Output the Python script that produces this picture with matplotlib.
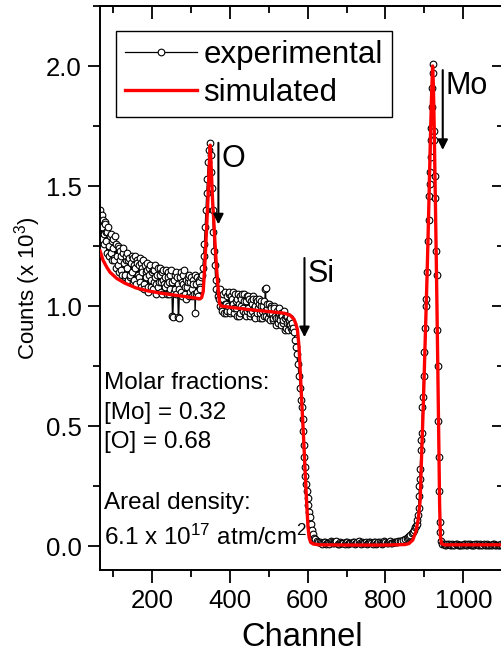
import matplotlib
matplotlib.use('Agg')
import matplotlib.pyplot as plt
from matplotlib.ticker import MultipleLocator, FormatStrFormatter

plt.rcParams['font.family'] = ['Liberation Sans', 'DejaVu Sans']
plt.rcParams['mathtext.fontset'] = 'custom'
plt.rcParams['mathtext.rm'] = 'Liberation Sans'
plt.rcParams['mathtext.it'] = 'Liberation Sans:italic'
plt.rcParams['mathtext.default'] = 'regular'

# ---------------- data ----------------
bg_left_ch = [68, 71, 74, 77, 80, 83, 86, 89, 92, 95, 98, 101, 104, 107, 110, 113, 116, 119, 122, 125,
              128, 131, 134, 137, 140, 143, 146, 149, 152, 155, 158, 161, 164, 167, 170, 173, 176, 179,
              182, 185, 188, 191, 194, 197, 200, 203, 206, 209, 212, 215, 218, 221, 224, 227, 230, 233,
              236, 239, 242, 245, 248, 251, 253, 254, 257, 260, 263, 266, 268, 269, 272, 275, 278, 281,
              284, 287, 290, 293, 296, 299, 302, 305, 308, 311, 314, 317, 320, 323, 326]
bg_left_counts = [1.40, 1.33, 1.36, 1.30, 1.34, 1.27, 1.31, 1.25, 1.29, 1.22, 1.27, 1.24, 1.19, 1.26, 1.21,
                  1.17, 1.24, 1.19, 1.15, 1.22, 1.18, 1.13, 1.21, 1.16, 1.19, 1.12, 1.18, 1.14, 1.20, 1.11,
                  1.16, 1.19, 1.13, 1.17, 1.10, 1.18, 1.14, 1.09, 1.17, 1.12, 1.15, 1.08, 1.16, 1.11, 1.14,
                  1.07, 1.15, 1.12, 1.09, 1.16, 1.10, 1.13, 1.06, 1.14, 1.11, 1.08, 1.15, 1.09, 1.12, 1.05,
                  1.13, 1.10, 0.96, 0.955, 1.11, 1.07, 1.14, 1.09, 0.955, 0.95, 1.12, 1.06, 1.10, 1.13,
                  1.05, 1.11, 1.08, 1.12, 1.04, 1.10, 1.07, 1.11, 1.05, 0.97, 1.09, 1.06, 1.11, 1.08, 1.12]

bg_left2_ch = [70, 73, 76, 79, 82, 85, 88, 91, 94, 97, 100, 103, 106, 109, 112, 115, 118, 121, 124, 127,
               130, 133, 136, 139, 142, 145, 148, 151, 154, 157, 160, 163, 166, 169, 172, 175, 178, 181,
               184, 187, 190, 193, 196, 199, 202, 205, 208, 211, 214, 217, 220, 223, 226, 229, 232, 235,
               238, 241, 244, 247, 250, 256, 259, 262, 265, 271, 274, 277, 280, 283, 286, 289, 292, 295,
               298, 301, 304, 307, 310, 313, 316, 319, 322, 325]
bg_left2_counts = [1.28, 1.38, 1.26, 1.35, 1.31, 1.22, 1.33, 1.21, 1.30, 1.19, 1.28, 1.20, 1.29, 1.16,
                   1.25, 1.14, 1.23, 1.21, 1.13, 1.24, 1.12, 1.19, 1.22, 1.11, 1.20, 1.13, 1.21, 1.10,
                   1.17, 1.21, 1.09, 1.18, 1.12, 1.20, 1.08, 1.16, 1.19, 1.07, 1.14, 1.18, 1.06, 1.13,
                   1.17, 1.08, 1.15, 1.10, 1.17, 1.05, 1.13, 1.08, 1.16, 1.10, 1.05, 1.15, 1.09, 1.12,
                   1.05, 1.14, 1.10, 1.07, 1.15, 1.06, 1.13, 1.05, 1.12, 1.07, 1.14, 1.04, 1.09, 1.15,
                   1.08, 1.03, 1.10, 1.13, 1.06, 1.12, 1.04, 1.09, 1.13, 1.05, 1.12, 1.04, 1.10, 1.07]

o_peak_ch = [329, 331, 333, 335, 337, 339, 341, 343, 345, 347, 349, 351, 353, 354, 356, 358, 360, 362,
             364, 366, 369]
o_peak_counts = [1.13, 1.16, 1.21, 1.26, 1.33, 1.40, 1.47, 1.53, 1.60, 1.65, 1.68, 1.63, 1.56, 1.49,
                 1.40, 1.31, 1.23, 1.17, 1.11, 1.07, 1.04]

bg_mid_ch = [372, 375, 378, 381, 384, 387, 390, 393, 396, 399, 402, 405, 408, 411, 414, 417, 420, 423,
             426, 429, 432, 435, 438, 441, 444, 447, 450, 453, 456, 459, 462, 465, 468, 471, 474, 477,
             480, 483, 486, 489, 491, 492, 495, 498, 501, 504, 507, 510, 513, 516, 518, 521, 524, 527,
             530, 533, 536, 539, 542, 545, 548, 551, 554, 557, 560]
bg_mid_counts = [1.06, 1.00, 1.04, 0.98, 1.05, 1.01, 0.97, 1.04, 1.00, 1.06, 0.98, 1.03, 1.01, 0.97,
                 1.05, 0.99, 1.03, 0.96, 1.04, 1.00, 1.05, 0.98, 1.02, 0.96, 1.04, 0.99, 1.03, 0.97,
                 1.01, 1.04, 0.96, 1.00, 1.03, 0.97, 1.01, 0.95, 1.02, 0.98, 1.00, 0.96, 1.07, 1.075,
                 0.99, 0.95, 1.01, 0.97, 0.99, 0.94, 1.00, 0.96, 0.92, 0.98, 0.95, 0.99, 0.94, 0.97,
                 0.93, 0.98, 0.95, 0.91, 0.96, 0.93, 0.95, 0.91, 0.93]

bg_mid2_ch = [373, 376, 379, 382, 385, 388, 391, 394, 397, 400, 403, 406, 409, 412, 415, 418, 421, 424,
              427, 430, 433, 436, 439, 442, 445, 448, 451, 454, 457, 460, 463, 466, 469, 472, 475, 478,
              481, 484, 487, 490, 494, 497, 500, 503, 506, 509, 512, 515, 520, 523, 526, 529, 532, 535,
              538, 541, 544, 547, 550, 553, 556, 559]
bg_mid2_counts = [1.03, 1.07, 0.99, 1.03, 0.97, 1.06, 1.01, 0.98, 1.05, 0.97, 1.04, 1.00, 1.06, 0.99,
                  1.02, 0.96, 1.05, 1.01, 0.97, 1.03, 0.99, 1.05, 0.97, 1.02, 0.98, 1.04, 0.96, 1.02,
                  0.98, 1.03, 0.99, 0.95, 1.02, 0.99, 1.03, 0.97, 1.00, 0.95, 1.02, 0.98, 0.96, 1.01,
                  0.97, 0.94, 1.00, 0.97, 0.95, 0.99, 0.95, 0.93, 0.97, 0.95, 0.92, 0.96, 0.94, 0.90,
                  0.96, 0.93, 0.90, 0.94, 0.92, 0.90]

si_edge_ch = [562, 565, 568, 570, 572, 575, 578, 581, 583, 585, 587, 588, 590, 591, 593, 594, 596, 598,
              600, 602, 604, 606, 608, 611, 614, 617, 620, 624, 628]
si_edge_counts = [0.91, 0.89, 0.86, 0.83, 0.80, 0.76, 0.71, 0.66, 0.61, 0.58, 0.53, 0.48, 0.42, 0.37,
                  0.33, 0.29, 0.26, 0.23, 0.20, 0.17, 0.14, 0.12, 0.09, 0.067, 0.05, 0.035, 0.028,
                  0.022, 0.018]

flat_ch = [632, 638, 644, 650, 656, 662, 668, 674, 680, 686, 692, 698, 704, 710, 716, 722, 728, 734,
           740, 746, 752, 758, 764, 770, 776, 782, 788, 794, 800, 806, 812, 818, 824, 830, 836]
flat_counts = [0.015, 0.010, 0.018, 0.012, 0.008, 0.016, 0.011, 0.019, 0.009, 0.014, 0.012, 0.017,
               0.010, 0.013, 0.018, 0.009, 0.015, 0.011, 0.016, 0.012, 0.010, 0.017, 0.013, 0.015,
               0.009, 0.018, 0.012, 0.014, 0.016, 0.011, 0.019, 0.013, 0.017, 0.015, 0.020]

flat2_ch = [635, 641, 647, 653, 659, 665, 671, 677, 683, 689, 695, 701, 707, 713, 719, 725, 731, 737,
            743, 749, 755, 761, 767, 773, 779, 785, 791, 797, 803, 809, 815, 821, 827, 833]
flat2_counts = [0.012, 0.017, 0.009, 0.014, 0.019, 0.011, 0.015, 0.008, 0.016, 0.013, 0.010, 0.018,
                0.014, 0.011, 0.016, 0.012, 0.019, 0.010, 0.014, 0.017, 0.011, 0.015, 0.009, 0.018,
                0.013, 0.016, 0.010, 0.019, 0.012, 0.015, 0.014, 0.018, 0.016, 0.021]

mo_peak_ch = [840, 845, 850, 854, 858, 861, 864, 867, 870, 873, 876, 878, 880, 882, 884, 885, 886, 887,
              888, 889, 891, 892, 893, 895, 896, 898, 900, 902, 904, 905, 907, 909, 911, 913, 914, 915,
              916, 917, 918, 919, 920, 921, 922, 924, 925, 927, 928, 930, 931, 933, 934, 936, 937,
              938, 940, 941, 943, 946]
mo_peak_counts = [0.022, 0.025, 0.028, 0.032, 0.036, 0.040, 0.046, 0.053, 0.060, 0.068, 0.078, 0.085,
                  0.09, 0.11, 0.13, 0.16, 0.21, 0.25, 0.28, 0.32, 0.40, 0.44, 0.47, 0.58, 0.62, 0.71,
                  0.81, 0.91, 1.00, 1.03, 1.14, 1.27, 1.36, 1.46, 1.51, 1.56, 1.62, 1.69, 1.74, 1.83,
                  1.91, 1.97, 2.01, 1.73, 1.69, 1.54, 1.45, 1.23, 1.13, 0.90, 0.75, 0.52, 0.37, 0.23,
                  0.10, 0.06, 0.02, 0.01]

bg_right_ch = [950, 956, 962, 968, 974, 980, 986, 992, 998, 1004, 1010, 1016, 1022, 1028, 1034, 1040,
               1046, 1052, 1058, 1064, 1070, 1076, 1082, 1088, 1094, 1100, 1106]
bg_right_counts = [0.008, 0.005, 0.007, 0.004, 0.006, 0.009, 0.005, 0.006, 0.004, 0.007, 0.005, 0.008,
                   0.006, 0.004, 0.007, 0.005, 0.006, 0.008, 0.004, 0.006, 0.005, 0.007, 0.005, 0.006,
                   0.004, 0.006, 0.005]

bg_right2_ch = [953, 959, 965, 971, 977, 983, 989, 995, 1001, 1007, 1013, 1019, 1025, 1031, 1037, 1043,
                1049, 1055, 1061, 1067, 1073, 1079, 1085, 1091, 1097, 1103]
bg_right2_counts = [0.006, 0.009, 0.004, 0.007, 0.005, 0.008, 0.006, 0.004, 0.007, 0.005, 0.009,
                    0.006, 0.005, 0.008, 0.004, 0.007, 0.006, 0.005, 0.008, 0.004, 0.006, 0.007,
                    0.005, 0.006, 0.008, 0.005]

sim_ch = [67, 75, 85, 93, 110, 131, 160, 190, 221, 260, 300, 324, 328, 332, 336, 340, 344, 347, 350,
          353, 356, 359, 362, 365, 368, 371, 374, 378, 400, 450, 500, 540, 555, 565, 570, 574, 578,
          582, 586, 590, 594, 598, 601, 604, 608, 615, 630, 700, 800, 850, 860, 870, 878, 884, 889,
          893, 897, 902, 907, 911, 915, 918, 921, 923, 925, 928, 931, 934, 937, 939, 941, 944, 950,
          1000, 1110]
sim_counts = [1.23, 1.19, 1.16, 1.14, 1.115, 1.095, 1.075, 1.063, 1.054, 1.045, 1.036, 1.03, 1.035,
              1.06, 1.17, 1.30, 1.44, 1.57, 1.67, 1.56, 1.44, 1.36, 1.27, 1.19, 1.12, 1.06, 1.01, 1.0,
              0.995, 0.985, 0.977, 0.97, 0.962, 0.945, 0.925, 0.90, 0.83, 0.70, 0.57, 0.44, 0.30, 0.17,
              0.08, 0.035, 0.015, 0.008, 0.005, 0.004, 0.004, 0.006, 0.01, 0.025, 0.06, 0.11, 0.19,
              0.39, 0.58, 0.86, 1.14, 1.40, 1.68, 1.86, 2.0, 1.92, 1.75, 1.45, 1.13, 0.78, 0.42, 0.17,
              0.04, 0.01, 0.005, 0.005, 0.005]

exp_pairs = sorted(zip(bg_left_ch + bg_left2_ch + o_peak_ch + bg_mid_ch + bg_mid2_ch + si_edge_ch
                       + flat_ch + flat2_ch + mo_peak_ch + bg_right_ch + bg_right2_ch,
                       bg_left_counts + bg_left2_counts + o_peak_counts + bg_mid_counts
                       + bg_mid2_counts + si_edge_counts + flat_counts + flat2_counts
                       + mo_peak_counts + bg_right_counts + bg_right2_counts))
exp_ch = [p[0] for p in exp_pairs]
exp_counts = [p[1] for p in exp_pairs]

x_major = [200, 400, 600, 800, 1000]
y_major = [0.0, 0.5, 1.0, 1.5, 2.0]

note_lines = ['Molar fractions:', '[Mo] = 0.32', '[O] = 0.68', 'Areal density:',
              '6.1 x 10$^{17}$ atm/cm$^{2}$']
arrow_labels = ['O', 'Si', 'Mo']
arrow_x = [371, 592, 947]
arrow_top = [1.68, 1.20, 1.983]
arrow_tip = [1.34, 0.87, 1.65]

# ---------------- figure ----------------
W, H = 501, 659
fig = plt.figure(figsize=(W / 100, H / 100), dpi=100)
L, R, T, B = 100, 503.5, 6, 570
ax = fig.add_axes([L / W, (H - B) / H, (R - L) / W, (B - T) / H])

ax.plot(exp_ch, exp_counts, '-o', color='k', lw=0.9, ms=4.8, mfc='white', mec='k', mew=0.8,
        label='experimental', zorder=2)
ax.plot(sim_ch, sim_counts, '-', color='#ff0000', lw=2.4, label='simulated', zorder=3)

ax.set_xlim(67, 1103)
ax.set_ylim(-0.1, 2.25)

ax.set_xticks(x_major)
ax.set_yticks(y_major)
ax.xaxis.set_minor_locator(MultipleLocator(100))
ax.yaxis.set_minor_locator(MultipleLocator(0.25))
ax.yaxis.set_major_formatter(FormatStrFormatter('%.1f'))
ax.tick_params(which='both', direction='out', width=1.3, top=False, right=False, labelsize=18.5)
ax.tick_params(which='major', length=9)
ax.tick_params(which='minor', length=5)
ax.tick_params(axis='x', pad=5)
ax.tick_params(axis='y', pad=4)
for s in ax.spines.values():
    s.set_linewidth(1.4)

secx = ax.secondary_xaxis('top')
secx.set_xticks(x_major)
secx.xaxis.set_minor_locator(MultipleLocator(100))
secx.tick_params(which='both', direction='in', width=1.3, labeltop=False)
secx.tick_params(which='major', length=9)
secx.tick_params(which='minor', length=5)
secx.spines['top'].set_linewidth(1.4)

secy = ax.secondary_yaxis('right')
secy.set_yticks(y_major)
secy.yaxis.set_minor_locator(MultipleLocator(0.25))
secy.tick_params(which='both', direction='in', width=1.3, labelright=False)
secy.tick_params(which='major', length=9)
secy.tick_params(which='minor', length=5)
secy.spines['right'].set_linewidth(1.4)

ax.set_xlabel('Channel', fontsize=23.5)
ax.xaxis.set_label_coords(0.5, (B - 637) / (B - T))
ax.xaxis.label.set_va('center')
ax.set_ylabel('Counts (x 10$^{3}$)', fontsize=16)
ax.yaxis.set_label_coords((28 - L) / (R - L), 0.5)
ax.yaxis.label.set_va('center')

leg = ax.legend(loc='upper left', bbox_to_anchor=((116 - L) / (R - L), (B - 30.5) / (B - T)),
                fontsize=22.5, handlelength=2.3, handletextpad=0.2, labelspacing=0.25,
                borderpad=0.3, borderaxespad=0, fancybox=False, framealpha=1, edgecolor='k')
leg.get_frame().set_linewidth(1.0)

for lab, xa, yt, yb in zip(arrow_labels, arrow_x, arrow_top, arrow_tip):
    ax.annotate('', xy=(xa, yb), xytext=(xa, yt),
                arrowprops=dict(arrowstyle='-|>', color='k', lw=1.5, mutation_scale=15,
                                shrinkA=0, shrinkB=0))
    ax.text(xa + 8, yt - 0.005, lab, fontsize=22, ha='left', va='top')

note_y = [383, 413, 442, 503, 537]
for txt, py in zip(note_lines, note_y):
    fig.text(104 / W, 1 - py / H, txt, fontsize=17.5, ha='left', va='center')

fig.savefig('out.png', dpi=100)
